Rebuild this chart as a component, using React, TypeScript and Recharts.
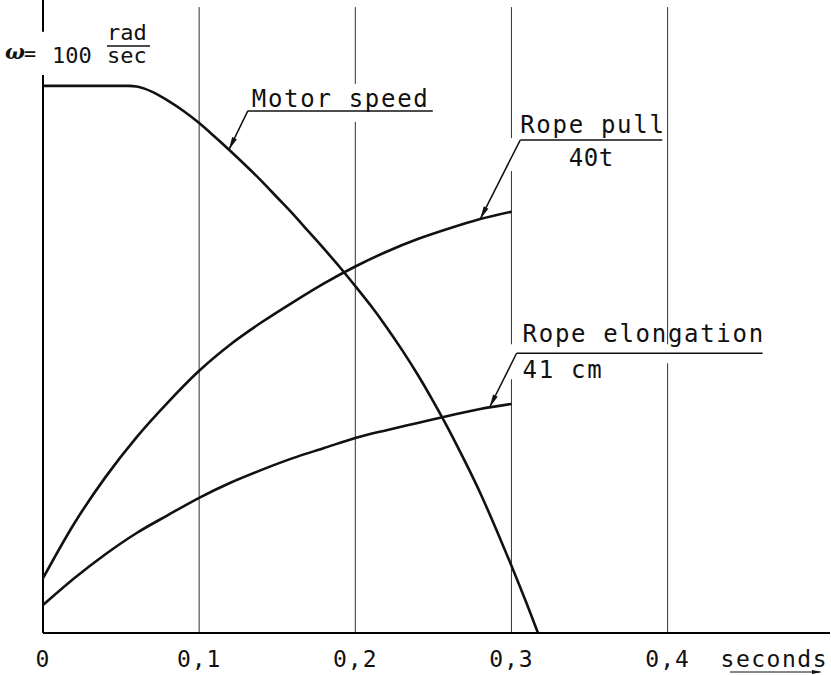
import { LineChart, Line, XAxis, YAxis, ReferenceLine, ReferenceDot } from "recharts";

const FONT = '"DejaVu Sans Mono", monospace';
const INK = "#111";

// time in seconds
const motorTime = [0, 0.02, 0.04, 0.055, 0.06, 0.065, 0.07, 0.08, 0.09, 0.1, 0.11, 0.12, 0.13, 0.14, 0.15, 0.16, 0.17, 0.18, 0.19, 0.2, 0.21, 0.22, 0.23, 0.24, 0.25, 0.26, 0.27, 0.28, 0.29, 0.3, 0.31, 0.317];
// motor speed, rad/sec
const motorSpeed = [100, 100, 100, 100, 99.9, 99.5, 98.9, 97.3, 95.4, 93.2, 90.7, 88.1, 85.4, 82.6, 79.6, 76.6, 73.4, 70.2, 66.9, 63.4, 59.8, 55.9, 51.7, 47.2, 42.3, 37.1, 31.5, 25.6, 19.1, 12.3, 5.2, 0];

const ropeTime = [0, 0.02, 0.04, 0.06, 0.08, 0.1, 0.12, 0.14, 0.16, 0.18, 0.2, 0.22, 0.24, 0.26, 0.28, 0.3];
// rope pull, tonnes
const ropePull = [5.2, 10.4, 14.8, 18.6, 21.9, 24.9, 27.4, 29.5, 31.4, 33.2, 34.8, 36.2, 37.4, 38.4, 39.3, 40];
// rope elongation, cm
const ropeElongation = [5.0, 9.8, 14.1, 17.9, 21.1, 24.2, 26.9, 29.2, 31.3, 33.1, 34.9, 36.3, 37.6, 38.9, 40.1, 41];

const xTicks = [0, 0.1, 0.2, 0.3, 0.4];

const motorRows = motorTime.map((t, i) => ({ t, v: motorSpeed[i] }));
const pullRows = ropeTime.map((t, i) => ({ t, v: ropePull[i] }));
const elongRows = ropeTime.map((t, i) => ({ t, v: ropeElongation[i] }));

const textProps = { fontFamily: FONT, fontSize: 24, letterSpacing: 1.7, fill: INK };

// little filled arrowhead pointing at (x, y), coming from (fx, fy)
const arrowHead = (x: number, y: number, fx: number, fy: number) => {
  const dx = fx - x;
  const dy = fy - y;
  const len = Math.hypot(dx, dy);
  const ux = dx / len;
  const uy = dy / len;
  const bx = x + ux * 13;
  const by = y + uy * 13;
  const pts = [
    [x, y],
    [bx - uy * 2.6, by + ux * 2.6],
    [bx + uy * 2.6, by - ux * 2.6],
  ];
  return <polygon points={pts.map((p) => p.join(",")).join(" ")} fill={INK} />;
};

const MotorNote = ({ cx, cy }: any) => {
  const ex = cx + 19;
  const ey = cy - 39;
  return (
    <g>
      <rect x={cx + 16} y={cy - 66} width={190} height={38} fill="#fff" />
      <line x1={cx} y1={cy} x2={ex} y2={ey} stroke={INK} strokeWidth={1.5} />
      {arrowHead(cx, cy, ex, ey)}
      <line x1={ex} y1={ey} x2={ex + 185} y2={ey} stroke={INK} strokeWidth={1.5} />
      <text x={ex + 4} y={ey - 4} {...textProps}>Motor speed</text>
    </g>
  );
};

const PullNote = ({ cx, cy }: any) => {
  const ex = cx + 40;
  const ey = cy - 79;
  return (
    <g>
      <rect x={cx + 22} y={cy - 81} width={163} height={33} fill="#fff" />
      <line x1={cx} y1={cy} x2={ex} y2={ey} stroke={INK} strokeWidth={1.5} />
      {arrowHead(cx, cy, ex, ey)}
      <line x1={ex} y1={ey} x2={ex + 142} y2={ey} stroke={INK} strokeWidth={1.5} />
      <text x={ex} y={ey - 7} {...textProps}>Rope pull</text>
      <text x={ex + 71} y={ey + 26} {...textProps} letterSpacing={0.5} textAnchor="middle">40t</text>
    </g>
  );
};

const ElongNote = ({ cx, cy }: any) => {
  const ex = cx + 27;
  const ey = cy - 54;
  return (
    <g>
      <rect x={cx + 15} y={cy - 63} width={100} height={35} fill="#fff" />
      <rect x={cx + 115} y={cy - 63} width={165} height={19} fill="#fff" />
      <line x1={cx} y1={cy} x2={ex} y2={ey} stroke={INK} strokeWidth={1.5} />
      {arrowHead(cx, cy, ex, ey)}
      <line x1={ex} y1={ey} x2={ex + 246} y2={ey} stroke={INK} strokeWidth={1.5} />
      <text x={ex + 6} y={ey - 11} {...textProps}>Rope elongation</text>
      <text x={ex + 6} y={ey + 25} {...textProps}>41 cm</text>
    </g>
  );
};

const OmegaNote = ({ cx, cy }: any) => (
  <g>
    <text x={cx - 38} y={cy - 27} fontFamily='"DejaVu Serif", serif' fontWeight="bold" fontStyle="italic" fontSize={21} fill={INK}>ω</text>
    <text x={cx - 19} y={cy - 26} fontFamily={FONT} fontSize={20} fill={INK}>=</text>
    <text x={cx + 9} y={cy - 23} fontFamily={FONT} fontSize={22} fill={INK}>100</text>
    <text x={cx + 64} y={cy - 46} fontFamily={FONT} fontSize={22} fill={INK}>rad</text>
    <line x1={cx + 64} y1={cy - 40} x2={cx + 107} y2={cy - 40} stroke={INK} strokeWidth={1.5} />
    <text x={cx + 64} y={cy - 23} fontFamily={FONT} fontSize={22} fill={INK}>sec</text>
  </g>
);

const TimeTick = ({ x, y, payload }: any) => (
  <text x={x} y={y + 26} textAnchor="middle" fontFamily={FONT} fontSize={23} letterSpacing={1} fill={INK}>
    {String(payload.value).replace(".", ",")}
  </text>
);

const SecondsLabel = ({ viewBox }: any) => {
  const right = viewBox.x + viewBox.width;
  return (
    <g>
      <text x={right - 2} y={viewBox.y + 34} textAnchor="end" {...textProps} fontSize={23} letterSpacing={1.5}>seconds</text>
      <line x1={right - 100} y1={viewBox.y + 39} x2={right - 10} y2={viewBox.y + 39} stroke={INK} strokeWidth={1.2} />
      <polygon points={`${right - 8},${viewBox.y + 39} ${right - 18},${viewBox.y + 37} ${right - 18},${viewBox.y + 41}`} fill={INK} />
    </g>
  );
};

const gridStyle = { stroke: "#333", strokeWidth: 1 };

export default function App() {
  return (
    <div style={{ position: "absolute", left: 0, top: 0, background: "#fff" }}>
      <LineChart width={831} height={675} margin={{ top: 0, right: 1, bottom: 12, left: 43 }}>
        <XAxis
          type="number"
          dataKey="t"
          domain={[0, 0.504]}
          allowDataOverflow
          ticks={xTicks}
          tick={<TimeTick />}
          tickLine={false}
          axisLine={{ stroke: "#000", strokeWidth: 2 }}
          height={30}
          label={{ content: <SecondsLabel /> }}
        />
        <YAxis yAxisId="omega" type="number" domain={[0, 115.7]} allowDataOverflow hide />
        <YAxis yAxisId="pull" type="number" domain={[0, 60.1]} allowDataOverflow hide />
        <YAxis yAxisId="elong" type="number" domain={[0, 113.3]} allowDataOverflow hide />

        {xTicks.slice(1).map((t) => (
          <ReferenceLine
            key={t}
            yAxisId="omega"
            segment={[{ x: t, y: 0 }, { x: t, y: 114.4 }]}
            {...gridStyle}
          />
        ))}

        {/* vertical axis, broken where the ω label sits */}
        <ReferenceLine yAxisId="omega" segment={[{ x: 0, y: 0 }, { x: 0, y: 102 }]} stroke="#000" strokeWidth={2} />
        <ReferenceLine yAxisId="omega" segment={[{ x: 0, y: 109.9 }, { x: 0, y: 115.7 }]} stroke="#000" strokeWidth={2} />

        <Line data={motorRows} dataKey="v" yAxisId="omega" type="monotone" stroke={INK} strokeWidth={2.6} dot={false} isAnimationActive={false} />
        <Line data={pullRows} dataKey="v" yAxisId="pull" type="monotone" stroke={INK} strokeWidth={2.6} dot={false} isAnimationActive={false} />
        <Line data={elongRows} dataKey="v" yAxisId="elong" type="monotone" stroke={INK} strokeWidth={2.6} dot={false} isAnimationActive={false} />

        <ReferenceDot yAxisId="omega" x={0} y={100} shape={(p: any) => <OmegaNote {...p} />} />
        <ReferenceDot yAxisId="omega" x={0.119} y={88.3} shape={(p: any) => <MotorNote {...p} />} />
        <ReferenceDot yAxisId="pull" x={0.28} y={39.3} shape={(p: any) => <PullNote {...p} />} />
        <ReferenceDot yAxisId="elong" x={0.286} y={40.4} shape={(p: any) => <ElongNote {...p} />} />
      </LineChart>
    </div>
  );
}
